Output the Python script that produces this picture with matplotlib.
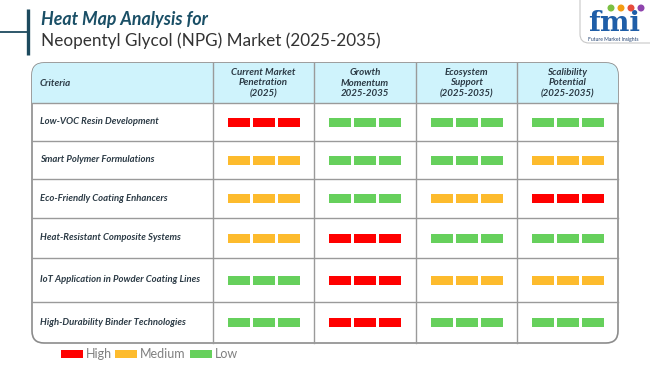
import matplotlib.pyplot as plt
from matplotlib.patches import Rectangle, FancyBboxPatch, Circle

# ---- data ----
criteria = [
    "Low-VOC Resin Development",
    "Smart Polymer Formulations",
    "Eco-Friendly Coating Enhancers",
    "Heat-Resistant Composite Systems",
    "IoT Application in Powder Coating Lines",
    "High-Durability Binder Technologies",
]
headers = [
    "Current Market\nPenetration\n(2025)",
    "Growth\nMomentum\n2025-2035",
    "Ecosystem\nSupport\n(2025-2035)",
    "Scalibility\nPotential\n(2025-2035)",
]
levels = [
    ["High", "Low", "Low", "Low"],
    ["Medium", "Low", "Low", "Medium"],
    ["Medium", "Low", "Medium", "High"],
    ["Medium", "High", "Low", "Low"],
    ["Low", "High", "Medium", "Medium"],
    ["Low", "High", "Low", "Low"],
]
legend_items = ["High", "Medium", "Low"]

COLORS = {"High": "#ff0000", "Medium": "#fdbb2d", "Low": "#66d05c"}
FONT = ["Lato", "DejaVu Sans"]
TXT = "#2b3a45"

# layout in pixels
col_x = [32, 213, 314, 416, 517, 618]
row_y = [63, 103, 141, 179, 218, 258, 302, 343]

fig = plt.figure(figsize=(6.5, 3.65), dpi=100)
ax = fig.add_axes([0, 0, 1, 1])
ax.set_xlim(0, 650)
ax.set_ylim(365, 0)
ax.axis("off")

# title block
ax.plot([28, 28], [9, 55], color="#1d4a5e", lw=2.4, solid_capstyle="butt")
ax.plot([0, 28], [32, 32], color="#1d4a5e", lw=1.3)
ax.text(41, 25, "Heat Map Analysis for", fontsize=12.8, fontweight="bold",
        fontstyle="italic", color="#1a4f66", family=FONT, va="baseline")
ax.text(41, 46, "Neopentyl Glycol (NPG) Market (2025-2035)", fontsize=12.3,
        color="#333333", family=FONT, va="baseline")

# logo
logo = FancyBboxPatch((580, -12), 90, 55, boxstyle="round,pad=0,rounding_size=9",
                      fc="white", ec="#c8c8c8", lw=0.8)
ax.add_patch(logo)
ax.text(614, 31, "fmi", fontsize=20, fontweight="bold", color="#1f5ea8",
        family="DejaVu Serif", ha="center", va="baseline")
for cx, c in zip([611, 621, 631, 641], ["#7bc043", "#f39c12", "#e74c3c", "#8e44ad"]):
    ax.add_patch(Circle((cx, 8), 2.8, color=c))
ax.text(613, 39.5, "Future Market Insights", fontsize=3.6, color="#1f3f6e",
        family=FONT, ha="center", va="center")

# table frame
box = FancyBboxPatch((col_x[0], row_y[0]), col_x[-1] - col_x[0], row_y[-1] - row_y[0],
                     boxstyle="round,pad=0,rounding_size=12", fc="white",
                     ec="#8c8c8c", lw=1.2, zorder=1)
ax.add_patch(box)
head = Rectangle((col_x[0], row_y[0]), col_x[-1] - col_x[0], row_y[1] - row_y[0],
                 fc="#cff3fc", ec="none", zorder=1.5)
ax.add_patch(head)
head.set_clip_path(box)

for y in row_y[1:-1]:
    ax.plot([col_x[0], col_x[-1]], [y, y], color="#9a9a9a", lw=1.0, zorder=2)
for x in col_x[1:-1]:
    ax.plot([x, x], [row_y[0], row_y[-1]], color="#9a9a9a", lw=1.0, zorder=2)

# header text
ax.text(40, (row_y[0] + row_y[1]) / 2, "Criteria", fontsize=7, fontweight="bold",
        fontstyle="italic", color=TXT, family=FONT, va="center", zorder=3)
for j, h in enumerate(headers):
    ax.text((col_x[j + 1] + col_x[j + 2]) / 2, (row_y[0] + row_y[1]) / 2, h,
            fontsize=7, fontweight="bold", fontstyle="italic", color=TXT,
            family=FONT, ha="center", va="center", linespacing=1.25, zorder=3)

# rows
bw, bh, gap = 22, 9, 3
for i, name in enumerate(criteria):
    yc = (row_y[i + 1] + row_y[i + 2]) / 2
    ax.text(40, yc, name, fontsize=6.8, fontweight="bold", fontstyle="italic",
            color=TXT, family=FONT, va="center", zorder=3)
    for j, lev in enumerate(levels[i]):
        xc = (col_x[j + 1] + col_x[j + 2]) / 2
        x0 = xc - (3 * bw + 2 * gap) / 2
        for k in range(3):
            ax.add_patch(Rectangle((x0 + k * (bw + gap), yc - bh / 2), bw, bh,
                                   fc=COLORS[lev], ec="none", zorder=3))

# legend
lx = [61, 115, 190]
for x, lab in zip(lx, legend_items):
    ax.add_patch(Rectangle((x, 349.5), 22, 8, fc=COLORS[lab], ec="none"))
    ax.text(x + 25, 353.5, lab, fontsize=9, color="#808080", family=FONT,
            va="center")

fig.savefig("out.png", dpi=100)
